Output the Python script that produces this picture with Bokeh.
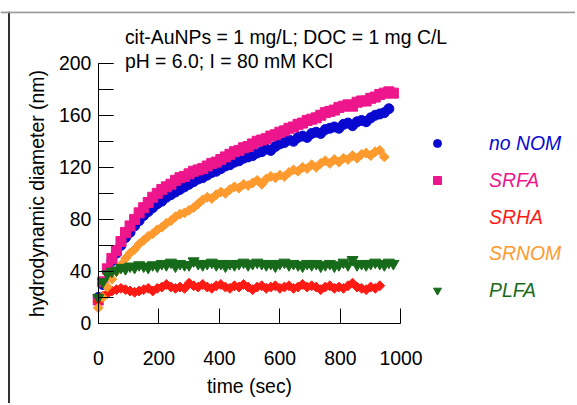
import math
from bokeh.plotting import figure
from bokeh.models import (Range1d, SingleIntervalTicker, Legend, LegendItem, Label, Span)
from bokeh.embed import file_html
from bokeh.resources import INLINE

# ---------------- data ----------------
t_blue = [0, 15, 30, 45, 60, 75, 90, 105, 120, 135, 150, 165, 180, 195, 210, 225, 240, 255, 270, 285,
          300, 315, 330, 345, 360, 375, 390, 405, 420, 435, 450, 465, 480, 495, 510, 525, 540, 555, 570, 585,
          600, 615, 630, 645, 660, 675, 690, 705, 720, 735, 750, 765, 780, 795, 810, 825, 840, 855, 870, 885,
          900, 915, 930, 945, 960]
no_nom = [20, 30, 40, 48, 54, 60, 66, 70, 75, 79, 83, 86, 89, 92, 94, 97, 99, 101, 103, 105,
          107, 109, 111, 112, 114, 116, 117, 119, 121, 122, 124, 125, 127, 128, 129, 131, 132, 134, 133, 136,
          138, 139, 141, 140, 143, 144, 143, 146, 147, 146, 149, 150, 151, 150, 153, 154, 152, 155, 156, 155,
          158, 160, 161, 162, 165]

t_pink = [0, 15, 30, 45, 60, 75, 90, 105, 120, 135, 150, 165, 180, 195, 210, 225, 240, 255, 270, 285,
          300, 315, 330, 345, 360, 375, 390, 405, 420, 435, 450, 465, 480, 495, 510, 525, 540, 555, 570, 585,
          600, 615, 630, 645, 660, 675, 690, 705, 720, 735, 750, 765, 780, 795, 810, 825, 840, 855, 870, 885,
          900, 915, 930, 945, 960, 975]
srfa = [18, 32, 42, 50, 56, 63, 70, 75, 80, 85, 89, 93, 97, 100, 103, 105, 107, 110, 112, 113,
        115, 117, 118, 119, 121, 123, 124, 126, 128, 130, 132, 133, 135, 136, 138, 140, 141, 142, 144, 145,
        147, 148, 150, 151, 153, 154, 156, 157, 158, 160, 162, 163, 164, 166, 167, 168, 167, 170, 171, 171,
        173, 174, 176, 177, 178, 177]

t_red = [0, 15, 30, 45, 60, 75, 90, 105, 120, 135, 150, 165, 180, 195, 210, 225, 240, 255, 270, 285,
         300, 315, 330, 345, 360, 375, 390, 405, 420, 435, 450, 465, 480, 495, 510, 525, 540, 555, 570, 585,
         600, 615, 630, 645, 660, 675, 690, 705, 720, 735, 750, 765, 780, 795, 810, 825, 840, 855, 870, 885,
         900, 915, 930]
srha = [17, 21, 23, 25, 26, 27, 26, 25, 24, 25, 26, 27, 25, 27, 28, 30, 28, 27, 28, 27,
        31, 29, 28, 30, 28, 27, 29, 30, 28, 27, 29, 28, 30, 28, 26, 28, 29, 27, 28, 29,
        27, 28, 29, 27, 28, 30, 28, 29, 28, 26, 28, 29, 27, 28, 27, 29, 31, 28, 27, 26,
        28, 27, 29]

t_orange = [0, 15, 30, 45, 60, 75, 90, 105, 120, 135, 150, 165, 180, 195, 210, 225, 240, 255, 270, 285,
            300, 315, 330, 345, 360, 375, 390, 405, 420, 435, 450, 465, 480, 495, 510, 525, 540, 555, 570, 585,
            600, 615, 630, 645, 660, 675, 690, 705, 720, 735, 750, 765, 780, 795, 810, 825, 840, 855, 870, 885,
            900, 915, 930, 945]
srnom = [12, 20, 28, 34, 40, 45, 50, 54, 57, 61, 64, 67, 69, 72, 74, 77, 79, 82, 84, 85,
         87, 89, 92, 95, 97, 96, 99, 101, 100, 103, 105, 104, 107, 106, 108, 110, 107, 111, 113, 112,
         114, 113, 116, 118, 117, 120, 119, 122, 120, 123, 125, 123, 126, 124, 127, 126, 129, 127, 130, 131,
         129, 132, 133, 128]

t_green = [0, 15, 30, 45, 60, 75, 90, 105, 120, 135, 150, 165, 180, 195, 210, 225, 240, 255, 270, 285,
           300, 315, 330, 345, 360, 375, 390, 405, 420, 435, 450, 465, 480, 495, 510, 525, 540, 555, 570, 585,
           600, 615, 630, 645, 660, 675, 690, 705, 720, 735, 750, 765, 780, 795, 810, 825, 840, 855, 870, 885,
           900, 915, 930, 945, 960, 975]
plfa = [20, 32, 38, 40, 41, 43, 42, 44, 43, 45, 44, 43, 45, 44, 46, 45, 47, 44, 46, 45,
        45, 48, 46, 45, 46, 47, 45, 46, 44, 46, 45, 46, 47, 45, 46, 47, 46, 45, 46, 44,
        46, 47, 45, 46, 45, 44, 46, 45, 46, 44, 45, 46, 44, 45, 47, 45, 49, 45, 46, 45,
        46, 47, 46, 45, 47, 46]

series_names = ["no NOM", "SRFA", "SRHA", "SRNOM", "PLFA"]
annotation_lines = ["cit-AuNPs = 1 mg/L; DOC = 1 mg C/L", "pH = 6.0; I = 80 mM KCl"]
x_ticks_interval = 200
y_ticks_interval = 40

# ---------------- styling ----------------
FONT = "Liberation Sans"
FS = "19.4px"
C_BLUE = "#0808d0"
C_PINK = "#ee168c"
C_RED = "#ff1a14"
C_ORANGE = "#ff9a2e"
C_GREEN = "#166a1a"

# The frame covers the whole canvas; axes are drawn at fixed data locations
X0, X1 = -323.0, 1576.6
Y0, Y1 = -61.47, 239.72
p = figure(width=575, height=403, output_backend="svg", toolbar_location=None,
           x_range=Range1d(X0, X1), y_range=Range1d(Y0, Y1),
           min_border_left=0, min_border_right=0, min_border_top=11, min_border_bottom=0)
p.outline_line_color = None
p.grid.visible = False
p.background_fill_color = "white"
p.border_fill_color = "white"

# page border (left dark, top grey)
p.add_layout(Span(location=X0 + 28.1, dimension="height", line_color="#333333", line_width=2))
p.add_layout(Span(location=Y1 - 0.5, dimension="width", line_color="#999999", line_width=2))

# axes
xa = p.xaxis[0]
xa.ticker = SingleIntervalTicker(interval=x_ticks_interval, num_minor_ticks=0)
xa.bounds = (0, 1000)
xa.fixed_location = 0
xa.axis_label = "time (sec)"
ya = p.yaxis[0]
ya.ticker = SingleIntervalTicker(interval=y_ticks_interval, num_minor_ticks=2)
ya.bounds = (0, 200)
ya.fixed_location = 0
ya.axis_label = "hydrodynamic diameter (nm)"
for ax in (xa, ya):
    ax.major_tick_in = 15
    ax.major_tick_out = 0
    ax.minor_tick_in = 15
    ax.minor_tick_out = 0
    ax.axis_line_color = "black"
    ax.major_tick_line_color = "black"
    ax.minor_tick_line_color = "black"
    ax.major_label_text_font = FONT
    ax.major_label_text_font_size = FS
    ax.major_label_text_color = "black"
    ax.axis_label_text_font = FONT
    ax.axis_label_text_font_size = FS
    ax.axis_label_text_font_style = "normal"
    ax.axis_label_text_color = "black"
xa.minor_tick_line_color = None
xa.major_label_standoff = 28
xa.axis_label_standoff = 6
ya.major_label_standoff = 7
ya.axis_label_standoff = 8

# data
r_blue = p.scatter(t_blue, no_nom, marker="circle", size=10, fill_color=C_BLUE, line_color=C_BLUE)
r_pink = p.scatter(t_pink, srfa, marker="square", size=10, fill_color=C_PINK, line_color=C_PINK)
r_red = p.scatter(t_red, srha, marker="square", size=7, angle=math.pi / 4,
                  fill_color=C_RED, line_color=C_RED)
r_orange = p.scatter(t_orange, srnom, marker="square", size=7, angle=math.pi / 4,
                     fill_color=C_ORANGE, line_color=C_ORANGE)
r_green = p.scatter(t_green, plfa, marker="inverted_triangle", size=11,
                    fill_color=C_GREEN, line_color=C_GREEN)

# legend-only proxies for the diamond markers (legend glyphs ignore rotation)
k_red = p.scatter(x=[], y=[], marker="diamond", size=13, fill_color=C_RED, line_color=C_RED)
k_orange = p.scatter(x=[], y=[], marker="diamond", size=13, fill_color=C_ORANGE, line_color=C_ORANGE)

# legends (one per entry so each label has its series colour)
legend_specs = [
    (series_names[0], r_blue, C_BLUE, 248),
    (series_names[1], r_pink, C_PINK, 211),
    (series_names[2], k_red, C_RED, 174),
    (series_names[3], k_orange, C_ORANGE, 138),
    (series_names[4], r_green, C_GREEN, 101),
]
for name, rend, col, vy in legend_specs:
    lg = Legend(items=[LegendItem(label=name, renderers=[rend])],
                location=(427, vy), padding=0, margin=0, spacing=0,
                glyph_width=20, glyph_height=24, label_height=24,
                label_standoff=42, border_line_color=None, background_fill_alpha=0,
                label_text_font=FONT, label_text_font_size=FS,
                label_text_font_style="italic", label_text_color=col)
    p.add_layout(lg, "center")

# annotation text
for line, yv in zip(annotation_lines, [220.5, 202]):
    p.add_layout(Label(x=88, y=yv, text=line, text_font=FONT, text_font_size=FS,
                       text_color="black", text_baseline="alphabetic", text_align="left"))

open("out.html", "w").write(file_html(p, INLINE))
